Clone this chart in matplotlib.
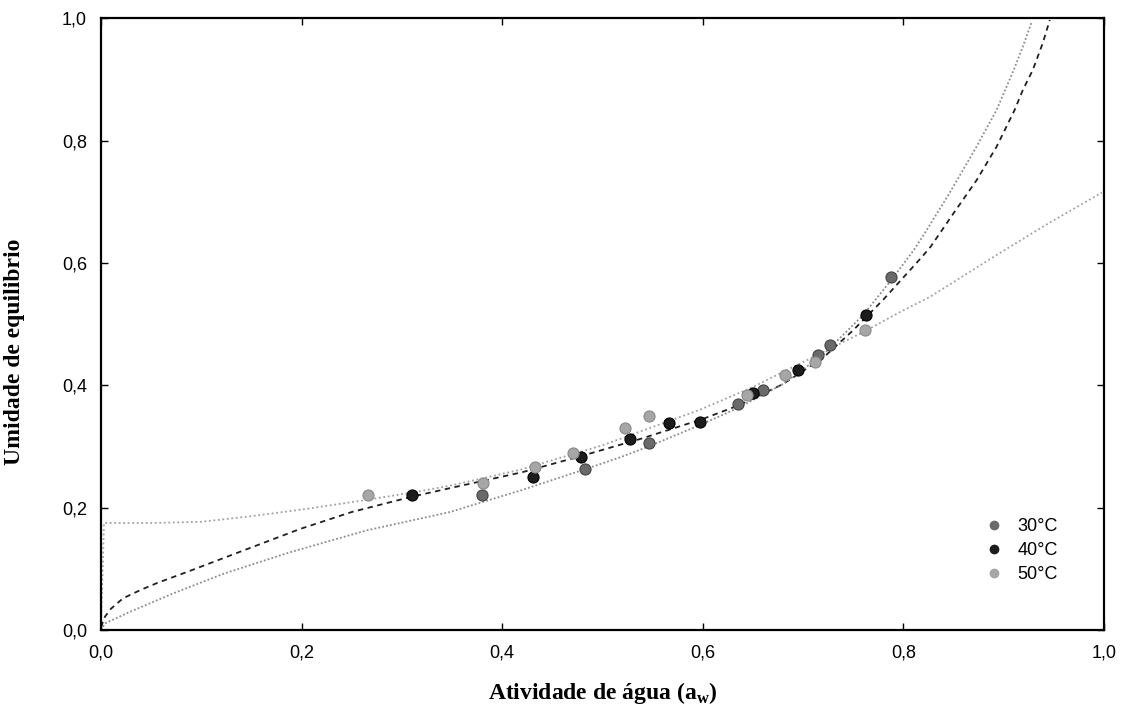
import matplotlib.pyplot as plt
from matplotlib.lines import Line2D

# Observed points (aw, equilibrium moisture) for each temperature
aw_30 = [0.380, 0.483, 0.546, 0.635, 0.660, 0.715, 0.727, 0.788]
x_30 = [0.220, 0.264, 0.306, 0.370, 0.392, 0.449, 0.466, 0.577]

aw_40 = [0.310, 0.431, 0.479, 0.527, 0.566, 0.597, 0.650, 0.695, 0.763]
x_40 = [0.220, 0.250, 0.283, 0.313, 0.338, 0.340, 0.387, 0.425, 0.515]

aw_50 = [0.266, 0.381, 0.433, 0.471, 0.522, 0.546, 0.644, 0.682, 0.712, 0.762]
x_50 = [0.220, 0.240, 0.267, 0.289, 0.330, 0.350, 0.384, 0.417, 0.438, 0.490]

# Fitted curves
fit30_aw = [0.0, 0.004, 0.029, 0.072, 0.122, 0.188, 0.265, 0.348, 0.418, 0.483,
            0.517, 0.546, 0.600, 0.635, 0.680, 0.720, 0.760, 0.788, 0.810, 0.820,
            0.846, 0.873, 0.893, 0.910, 0.920, 0.928]
fit30_x = [0.0, 0.011, 0.030, 0.060, 0.092, 0.127, 0.163, 0.193, 0.228, 0.263,
           0.282, 0.300, 0.337, 0.363, 0.402, 0.450, 0.515, 0.572, 0.620, 0.645,
           0.714, 0.790, 0.850, 0.915, 0.957, 0.994]

fit40_aw = [0.0, 0.004, 0.010, 0.022, 0.040, 0.056, 0.089, 0.129, 0.198, 0.250,
            0.310, 0.348, 0.420, 0.480, 0.537, 0.600, 0.637, 0.680, 0.720, 0.750,
            0.780, 0.817, 0.827, 0.850, 0.873, 0.893, 0.911, 0.919, 0.929, 0.939,
            0.946]
fit40_x = [0.005, 0.022, 0.035, 0.052, 0.066, 0.077, 0.097, 0.122, 0.165, 0.193,
           0.218, 0.232, 0.258, 0.285, 0.312, 0.345, 0.368, 0.402, 0.445, 0.490,
           0.540, 0.607, 0.626, 0.681, 0.735, 0.790, 0.850, 0.882, 0.915, 0.959,
           0.997]

fit50_aw = [0.0, 0.003, 0.050, 0.100, 0.149, 0.200, 0.266, 0.318, 0.348, 0.418,
            0.500, 0.597, 0.647, 0.710, 0.760, 0.797, 0.827, 0.896, 0.946, 0.998]
fit50_x = [0.0, 0.175, 0.175, 0.177, 0.186, 0.197, 0.213, 0.227, 0.236, 0.262,
           0.302, 0.360, 0.395, 0.446, 0.487, 0.520, 0.545, 0.616, 0.666, 0.715]

labels = ['30°C', '40°C', '50°C']
ticks = [0.0, 0.2, 0.4, 0.6, 0.8, 1.0]
tick_labels = ['0,0', '0,2', '0,4', '0,6', '0,8', '1,0']

c30, c40, c50 = '#6a6a6a', '#1c1c1c', '#a6a6a6'

fig = plt.figure(figsize=(11.32, 7.08), dpi=100)
ax = fig.add_axes([0.0892, 0.110, 0.886, 0.8644])

# curves
ax.plot(fit50_aw, fit50_x, color='#a0a0a0', linestyle=(0, (1, 1.5)), lw=1.3)
ax.plot(fit40_aw, fit40_x, color='#202020', linestyle=(0, (3, 2.5)), lw=1.3)
ax.plot(fit30_aw, fit30_x, color='#8c8c8c', linestyle=(0, (1, 1.2)), lw=1.3)

# points
ax.plot(aw_30, x_30, 'o', color=c30, ms=8, mec='#444444', mew=0.8)
ax.plot(aw_40, x_40, 'o', color=c40, ms=8, mec='#000000', mew=0.8)
ax.plot(aw_50, x_50, 'o', color=c50, ms=8, mec='#8a8a8a', mew=0.8)

ax.set_xlim(0, 1)
ax.set_ylim(0, 1)
ax.set_xticks(ticks)
ax.set_xticklabels(tick_labels)
ax.set_yticks(ticks)
ax.set_yticklabels(tick_labels)
ax.tick_params(direction='in', length=5, width=1, top=True, right=True,
               labelsize=13, pad=10)
for lab in ax.get_xticklabels() + ax.get_yticklabels():
    lab.set_family('Liberation Sans')
for sp in ax.spines.values():
    sp.set_linewidth(1.6)

ax.set_xlabel('Atividade de água (a$_\\mathregular{w}$)', family='Liberation Serif',
              fontweight='bold', fontsize=17, labelpad=14)
ax.set_ylabel('Umidade de equilibrio', family='Liberation Serif',
              fontweight='bold', fontsize=17)
ax.yaxis.set_label_coords(-0.076, 0.454)

handles = [Line2D([], [], marker='o', ls='', color=c, ms=6) for c in (c30, c40, c50)]
ax.legend(handles, labels, loc='lower right', bbox_to_anchor=(0.97, 0.05),
          frameon=False, prop={'family': 'Liberation Sans', 'size': 13},
          handletextpad=0.3, labelspacing=0.4)

fig.savefig('out.png', dpi=100)
